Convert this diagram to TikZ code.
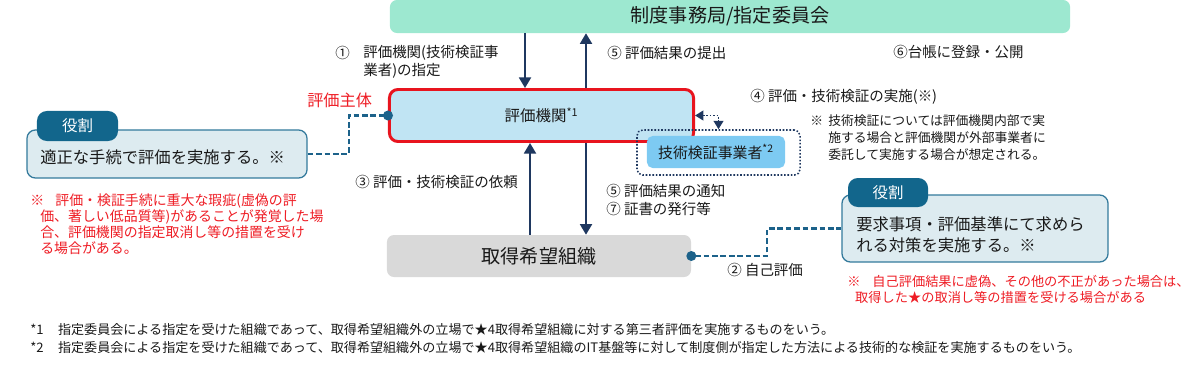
\documentclass[tikz,border=0pt]{standalone}
\usepackage{fontspec}
\setmainfont{Noto Sans CJK JP}
\usepackage{xcolor}
\usetikzlibrary{positioning, arrows.meta, calc}

\definecolor{jimugreen}{RGB}{157,232,208}
\definecolor{kikanblue}{RGB}{192,228,243}
\definecolor{kikanred}{RGB}{232,20,30}
\definecolor{gishablue}{RGB}{125,202,242}
\definecolor{navy}{RGB}{31,56,96}
\definecolor{orggray}{RGB}{217,217,217}
\definecolor{rolefill}{RGB}{221,235,240}
\definecolor{roleline}{RGB}{52,122,156}
\definecolor{roletab}{RGB}{18,102,140}
\definecolor{linkteal}{RGB}{28,98,138}
\definecolor{notered}{RGB}{238,28,36}

\begin{document}
\begin{tikzpicture}[
        x=0.025cm, y=-0.025cm,
        every node/.style={text=black!90},
        jimubox/.style={rectangle, rounded corners=5pt, fill=jimugreen, minimum width=17cm, minimum height=0.825cm, font=\fontsize{13.6}{16}\selectfont},
        kikanbox/.style={rectangle, rounded corners=6pt, fill=kikanblue, draw=kikanred, line width=2.1pt, minimum width=7.6cm, minimum height=1.3cm, font=\fontsize{11}{13}\selectfont},
        gishabox/.style={rectangle, rounded corners=4pt, fill=gishablue, minimum width=3.45cm, minimum height=0.8cm, font=\fontsize{10.6}{12}\selectfont},
        gframe/.style={rectangle, rounded corners=4pt, draw=navy, line width=1.1pt, dash pattern=on 1.1pt off 1.3pt, minimum width=4.075cm, minimum height=1.125cm},
        orgbox/.style={rectangle, rounded corners=5pt, fill=orggray, minimum width=7.6cm, minimum height=1.05cm, font=\fontsize{13.6}{16}\selectfont},
        rolebox/.style={rectangle, rounded corners=6pt, fill=rolefill, draw=roleline, line width=0.9pt},
        roletab/.style={rectangle, rounded corners=7pt, fill=roletab, text=white, font=\fontsize{11}{13}\selectfont},
        roletext/.style={anchor=west, inner sep=0pt, align=left, font=\fontsize{11.6}{14.9}\selectfont},
        flow/.style={draw=navy, line width=1.4pt, -{Triangle[width=8.5pt,length=7.5pt]}},
        dotflow/.style={draw=navy, line width=1.2pt, dash pattern=on 1.2pt off 1.2pt, {Triangle[width=7pt,length=6pt]}-{Triangle[width=7pt,length=6pt]}},
        link/.style={draw=linkteal, line width=1.6pt, dash pattern=on 4pt off 2pt},
        lbl/.style={anchor=west, inner sep=0pt, align=left, font=\fontsize{10.3}{12.8}\selectfont},
        smallnote/.style={anchor=west, inner sep=0pt, align=left, font=\fontsize{9.1}{12}\selectfont},
        rednote/.style={anchor=west, inner sep=0pt, align=left, text=notered},
    ]
    \useasboundingbox (0,0) rectangle (1200,369);

    % === MAIN BOXES ===
    \node[jimubox] (jimu) at (730,16.5) {制度事務局/指定委員会};
    \node[kikanbox] (kikan) at (541.5,115.5) {評価機関\textsuperscript{*1}};
    \node[gframe] (gframe) at (718.5,152.5) {};
    \node[gishabox] (gisha) at (716,152) {技術検証事業者\textsuperscript{*2}};
    \node[orgbox] (org) at (539,256) {取得希望組織};

    % === ROLE BOXES ===
    \node[rolebox, minimum width=7cm, minimum height=1.2cm] (role1) at (167,154) {};
    \node[roletab, minimum width=2.025cm, minimum height=0.75cm] (tab1) at (77.5,126) {役割};
    \node[roletext] (role1txt) at (40,157) {適正な手続で評価を実施する。※};

    \node[rolebox, minimum width=6.65cm, minimum height=1.675cm] (role2) at (975,228.5) {};
    \node[roletab, minimum width=2cm, minimum height=0.725cm] (tab2) at (888,192.5) {役割};
    \node[roletext] (role2txt) at (856,234.5) {要求事項・評価基準にて求めら\\れる対策を実施する。※};

    % x positions of the vertical arrows
    \coordinate (a1) at (525,0);
    \coordinate (a3) at (530,0);
    \coordinate (a5) at (586,0);

    % Arrows between boxes
    \draw[flow] (jimu.south -| a1) -- (kikan.north -| a1);
    \draw[flow] (kikan.north -| a5) -- (jimu.south -| a5);
    \draw[flow] (org.north -| a3) -- (kikan.south -| a3);
    \draw[flow] (kikan.south -| a5) -- (org.north -| a5);
    \draw[dotflow] (kikan.east) -| (gframe.north);

    % Dashed role links
    \draw[link, -{Circle[length=7pt]}, shorten >=-3.5pt] (role1.east) -- ++(41,0) |- (kikan.west);
    \draw[link, {Circle[length=7pt]}-, shorten <=-3.5pt] (org.east) -- ++(76,0) |- (role2.west);

    % Step labels
    \node[lbl] (st1) at (335,53) {①};
    \node[lbl] (st1txt) at (363,62) {評価機関(技術検証事\\業者)の指定};
    \node[lbl] (st5a) at (607,53) {⑤ 評価結果の提出};
    \node[lbl] (st6) at (893,52) {⑥台帳に登録・公開};
    \node[lbl] (st4) at (750,97) {④ 評価・技術検証の実施(※)};
    \node[lbl] (st3) at (355,182) {③ 評価・技術検証の依頼};
    \node[lbl] (st57) at (606,199.5) {⑤ 評価結果の通知\\⑦ 証書の発行等};
    \node[lbl] (st2) at (727,270) {② 自己評価};

    % Notes
    \node[smallnote] (kome) at (810,121) {※};
    \node[smallnote] (kometxt) at (828,138) {技術検証については評価機関内部で実\\施する場合と評価機関が外部事業者に\\委託して実施する場合が想定される。};
    \node[rednote, font=\fontsize{11.5}{14}\selectfont] (shutai) at (307,100) {評価主体};
    \node[rednote, font=\fontsize{9.9}{11.4}\selectfont] (red1) at (30,224) {※\hspace{0.8em}評価・検証手続に重大な瑕疵(虚偽の評\\\hspace*{0.72em}価、著しい低品質等)があることが発覚した場\\\hspace*{0.72em}合、評価機関の指定取消し等の措置を受け\\\hspace*{0.72em}る場合がある。};
    \node[rednote, font=\fontsize{9.4}{11.4}\selectfont] (red2) at (847,289) {※\hspace{0.9em}自己評価結果に虚偽、その他の不正があった場合は、\\\hspace*{0.6em}取得した★の取消し等の措置を受ける場合がある};

    % Footnotes
    \node[lbl, font=\fontsize{9.3}{12.8}\selectfont] (foot) at (30,339) {*1\hspace{1.1em}指定委員会による指定を受けた組織であって、取得希望組織外の立場で★4取得希望組織に対する第三者評価を実施するものをいう。\\*2\hspace{1.1em}指定委員会による指定を受けた組織であって、取得希望組織外の立場で★4取得希望組織のIT基盤等に対して制度側が指定した方法による技術的な検証を実施するものをいう。};

\end{tikzpicture}
\end{document}
